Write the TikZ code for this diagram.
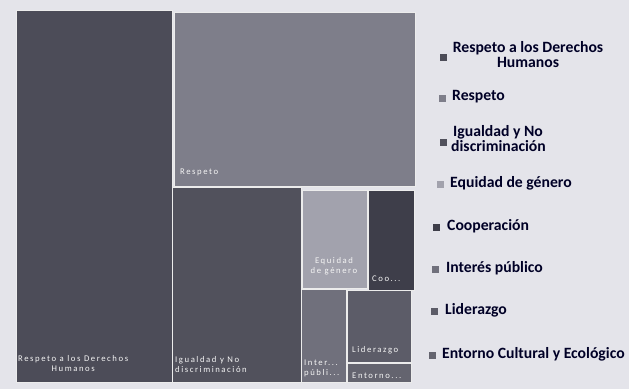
\documentclass[tikz,border=0pt]{standalone}
\usepackage{fontspec}
\setmainfont{Carlito}
\newfontfamily\tilefont[LetterSpace=18]{Carlito}
\begin{document}
\begin{tikzpicture}[x=1pt,y=-1pt,
  tile/.style={draw=white!85!gray,line width=1pt},
  tlabel/.style={text=white!92!gray,font=\tilefont\fontsize{8.7}{10}\selectfont,inner sep=0pt,align=left},
  lgtext/.style={font=\bfseries\fontsize{15.7}{15}\selectfont,text=black!85!blue,inner sep=0pt,anchor=west,align=left},
  lgmark/.style={minimum size=7pt,inner sep=0pt}]
\definecolor{bgc}{HTML}{E4E4EA}
\definecolor{cA}{HTML}{4C4C58}
\definecolor{cB}{HTML}{7E7E8A}
\definecolor{cC}{HTML}{51515C}
\definecolor{cD}{HTML}{A2A2AD}
\definecolor{cE}{HTML}{3E3E4A}
\definecolor{cF}{HTML}{70707C}
\definecolor{cG}{HTML}{5C5C68}
\definecolor{cH}{HTML}{64646F}
\fill[bgc] (0,0) rectangle (629,389);
\useasboundingbox (0,0) rectangle (629,389);
% tiles
\path[tile,fill=cA] (16,10) rectangle (172,382);
\path[tile,fill=cB] (174,12) rectangle (415,186);
\path[tile,fill=cC] (172,187) rectangle (301,382);
\path[tile,fill=cD] (302,190) rectangle (367,288);
\path[tile,fill=cE] (368,190) rectangle (414,290);
\path[tile,fill=cF] (301,289) rectangle (346,382);
\path[tile,fill=cG] (347,290) rectangle (411,362);
\path[tile,fill=cH] (347,363) rectangle (411,382);
% tile labels
\node[tlabel,anchor=west,align=center] (lA) at (18,364) {Respeto a los Derechos\\Humanos};
\node[tlabel,anchor=west] (lB) at (180,172) {Respeto};
\node[tlabel,anchor=west] (lC) at (175,365) {Igualdad y No\\discriminación};
\node[tlabel,align=center] (lD) at (334,266) {Equidad\\de género};
\node[tlabel,anchor=west] (lE) at (372,279) {Coo...};
\node[tlabel,anchor=west] (lF) at (304,368) {Inter...\\públi...};
\node[tlabel,anchor=west] (lG) at (352,350) {Liderazgo};
\node[tlabel,anchor=west] (lH) at (352,376) {Entorno...};
% legend
\node[lgmark,fill=cA] (mA) at (443,57) {};
\node[lgtext,anchor=center,align=center] (tA) at (528,55) {Respeto a los Derechos\\Humanos};
\node[lgmark,fill=cB] (mB) at (442,98) {};
\node[lgtext] (tB) at (452,97) {Respeto};
\node[lgmark,fill=cC] (mC) at (443,142) {};
\node[lgtext] (tC) at (451,139) {\hspace*{2pt}Igualdad y No\\discriminación};
\node[lgmark,fill=cD] (mD) at (440,184) {};
\node[lgtext] (tD) at (450,183) {Equidad de género};
\node[lgmark,fill=cE] (mE) at (436,227) {};
\node[lgtext] (tE) at (447,226) {Cooperación};
\node[lgmark,fill=cF] (mF) at (435,269) {};
\node[lgtext] (tF) at (446,268) {Interés público};
\node[lgmark,fill=cG] (mG) at (434,311) {};
\node[lgtext] (tG) at (445,310) {Liderazgo};
\node[lgmark,fill=cH] (mH) at (432,355) {};
\node[lgtext] (tH) at (442,354) {Entorno Cultural y Ecológico};
\end{tikzpicture}
\end{document}
